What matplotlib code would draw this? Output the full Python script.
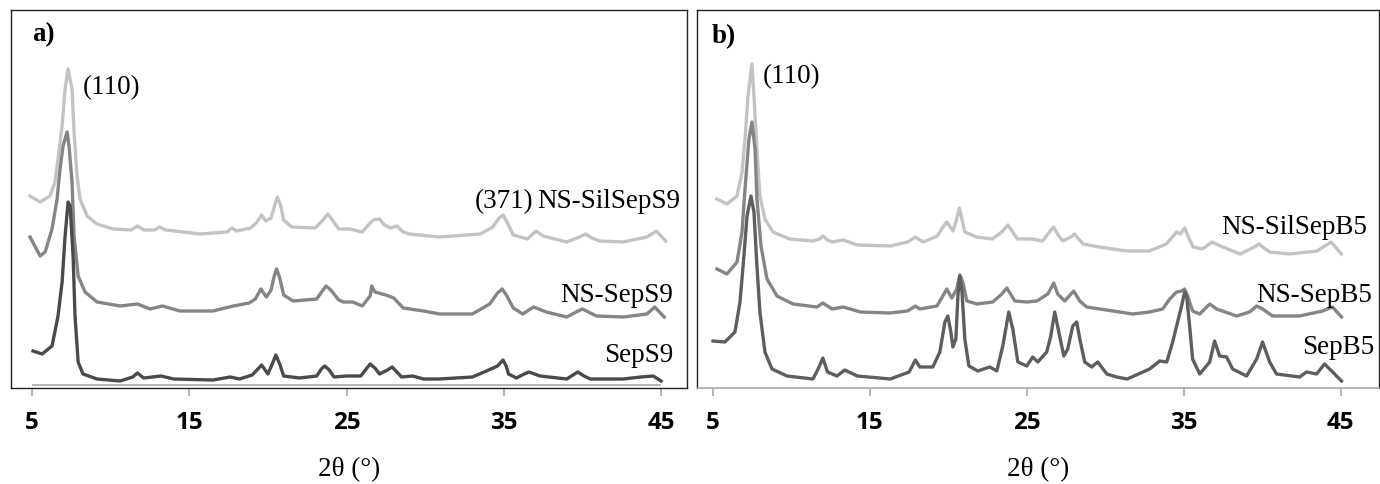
import matplotlib
matplotlib.use("Agg")
import matplotlib.pyplot as plt

# ---------------- data (2theta in degrees, intensity in arbitrary units, offset stacked) ----------
ticks = [5, 15, 25, 35, 45]
tick_labels = ["5", "15", "25", "35", "45"]

# Panel a : NS-SilSepS9
a_sil_x = [4.87, 5.51, 6.14, 6.46, 6.65, 6.91, 7.10, 7.29, 7.54, 7.67, 7.86, 8.05, 8.5, 9.13, 10.15, 11.3, 11.7,
           12.1, 12.8, 13.1, 13.5, 15.7, 17.4, 17.7, 18.0, 18.9, 19.3, 19.6, 19.85, 20.2, 20.45, 20.6, 20.8,
           21.0, 21.5, 23.0, 23.5, 23.8, 24.1, 24.5, 25.2, 26.0, 26.5, 26.7, 27.1, 27.4, 27.8, 28.2, 28.6,
           29.0, 30.9, 33.5, 34.3, 34.7, 34.95, 35.2, 35.6, 36.5, 37.05, 37.5, 39.0, 39.8, 40.2, 40.6, 41.1,
           42.6, 44.1, 44.7, 45.3]
a_sil_y = [192, 186, 192, 206, 229, 262, 299, 319, 299, 256, 212, 189, 172, 164, 159, 158, 162,
           158, 158, 161, 158, 154, 156, 160, 157, 160, 166, 173, 167, 170, 184, 191, 183,
           168, 161, 160, 168, 174, 168, 159, 159, 156, 165, 168, 169, 163, 160, 162, 156,
           154, 151, 154, 161, 170, 173, 166, 153, 149, 157, 152, 146, 151, 154, 150, 147,
           146, 151, 157, 147]

# Panel a : NS-SepS9
a_sep_x = [4.87, 5.51, 5.83, 6.27, 6.59, 6.78, 6.97, 7.23, 7.35, 7.54, 7.67, 7.93, 8.37, 9.13, 10.6, 11.7, 12.5,
           13.3, 14.4, 16.5, 17.8, 18.8, 19.2, 19.55, 19.9, 20.2, 20.4, 20.55, 20.75, 21.0, 21.6, 23.1, 23.5,
           23.7, 24.0, 24.5, 24.8, 25.4, 26.0, 26.5, 26.6, 26.8, 27.5, 28.0, 28.6, 29.9, 30.9, 33.0, 34.1,
           34.6, 34.9, 35.2, 35.6, 36.2, 36.9, 37.7, 39.0, 39.6, 40.0, 40.5, 40.9, 42.6, 44.1, 44.6, 45.2]
a_sep_y = [151, 132, 136, 159, 189, 219, 242, 256, 242, 206, 152, 112, 96, 86, 82, 84, 79,
           82, 77, 77, 82, 85, 89, 99, 91, 98, 112, 119, 110, 93, 87, 89, 98,
           102, 98, 88, 86, 86, 82, 92, 102, 96, 93, 90, 80, 77, 74, 74, 84,
           95, 99, 92, 80, 74, 81, 76, 71, 76, 79, 75, 72, 71, 74, 81, 71]

# Panel a : SepS9
a_s9_x = [5.06, 5.64, 6.27, 6.65, 6.91, 7.10, 7.29, 7.42, 7.61, 7.73, 7.93, 8.24, 9.13, 10.6, 11.4, 11.7, 12.1,
          13.2, 14.0, 16.5, 17.6, 18.2, 19.0, 19.3, 19.6, 20.0, 20.3, 20.5, 20.75, 21.0, 22.0, 23.1, 23.4,
          23.6, 23.9, 24.2, 25.0, 25.9, 26.3, 26.5, 26.8, 27.1, 27.6, 27.9, 28.2, 28.5, 29.2, 29.9, 30.9,
          33.0, 33.9, 34.6, 34.95, 35.15, 35.3, 35.8, 36.3, 36.6, 37.3, 39.0, 39.4, 39.7, 40.1, 40.5, 42.6,
          43.7, 44.5, 45.0]
a_s9_y = [37, 34, 42, 72, 106, 152, 186, 182, 132, 72, 26, 14, 9, 7, 11, 15, 10,
          12, 9, 8, 11, 9, 13, 18, 23, 14, 25, 33, 24, 12, 10, 12, 19,
          22, 18, 11, 12, 12, 20, 24, 20, 14, 18, 21, 16, 11, 12, 9, 9,
          11, 17, 22, 28, 22, 14, 10, 14, 16, 12, 9, 13, 16, 12, 9, 9,
          11, 12, 7]

# Panel b : NS-SilSepB5
b_sil_x = [5.25, 5.89, 6.53, 6.85, 7.04, 7.23, 7.48, 7.61, 7.80, 7.99, 8.31, 8.82, 9.90, 11.37, 11.8, 12.0, 12.3,
           12.6, 13.3, 14.2, 16.3, 17.4, 17.9, 18.4, 19.3, 19.65, 19.9, 20.3, 20.55, 20.7, 20.85, 21.05, 21.8,
           22.8, 23.4, 23.8, 24.1, 24.4, 25.3, 26.0, 26.4, 26.7, 27.0, 27.3, 27.8, 28.05, 28.3, 28.6, 29.6,
           31.4, 32.8, 33.9, 34.55, 34.8, 35.06, 35.3, 35.6, 36.2, 36.8, 37.5, 38.6, 39.5, 39.8, 40.2, 40.5,
           41.75, 43.5, 44.4, 45.05]
b_sil_y = [189, 184, 192, 216, 249, 292, 324, 292, 239, 192, 169, 156, 149, 147, 149, 152, 148,
           146, 148, 143, 142, 146, 151, 146, 152, 161, 166, 157, 170, 180, 170, 156, 151,
           149, 156, 163, 156, 149, 149, 147, 155, 161, 153, 147, 151, 154, 149, 144, 141,
           137, 137, 144, 156, 154, 160, 151, 141, 139, 146, 141, 134, 141, 144, 139, 136,
           134, 137, 146, 134]

# Panel b : NS-SepB5
b_sep_x = [5.25, 5.89, 6.53, 6.85, 7.04, 7.29, 7.48, 7.68, 7.80, 8.06, 8.44, 9.08, 10.10, 11.62, 12.0, 12.6,
           13.3, 14.4, 16.3, 17.4, 17.9, 18.18, 19.27, 19.65, 19.90, 20.22, 20.54, 20.73, 20.92, 21.18, 21.82,
           22.83, 23.41, 23.73, 24.24, 25.0, 25.64, 26.34, 26.72, 26.97, 27.42, 27.99, 28.38, 28.82, 29.65,
           30.92, 31.75, 32.83, 33.66, 34.11, 34.55, 34.87, 35.06, 35.25, 35.57, 36.02, 36.66, 37.10, 38.38,
           39.2, 39.65, 40.03, 40.67, 42.39, 43.85, 44.49, 45.06]
b_sep_y = [119, 114, 126, 156, 199, 249, 266, 239, 189, 142, 109, 92, 84, 81, 85, 79,
           81, 76, 75, 77, 82, 79, 82, 92, 99, 90, 99, 113, 106, 87, 84,
           86, 94, 100, 87, 86, 87, 94, 105, 94, 87, 97, 87, 81, 79,
           76, 74, 76, 79, 89, 96, 97, 99, 92, 77, 74, 84, 79, 72,
           76, 82, 79, 72, 72, 77, 81, 71]

# Panel b : SepB5
b_s5_x = [5.0, 5.76, 6.40, 6.72, 6.97, 7.17, 7.42, 7.61, 7.80, 7.99, 8.31, 8.76, 9.71, 11.37, 11.7, 12.0, 12.3,
          12.9, 13.4, 14.2, 16.3, 17.5, 17.9, 18.18, 19.01, 19.46, 19.78, 19.97, 20.16, 20.29, 20.48, 20.61,
          20.73, 20.86, 21.05, 21.31, 21.88, 22.64, 23.09, 23.47, 23.85, 24.11, 24.43, 25.0, 25.38, 25.70,
          26.27, 26.53, 26.78, 27.04, 27.36, 27.61, 27.93, 28.18, 28.38, 28.69, 29.14, 29.52, 30.1, 30.73,
          31.4, 32.83, 33.47, 33.92, 34.30, 34.55, 34.87, 35.06, 35.19, 35.38, 35.57, 36.02, 36.66, 36.97,
          37.29, 37.74, 38.12, 39.01, 39.65, 40.03, 40.48, 40.92, 42.39, 42.83, 43.47, 43.98, 44.43, 45.06]
b_s5_y = [47, 46, 56, 86, 132, 172, 192, 176, 122, 76, 36, 19, 12, 9, 19, 30, 16,
          12, 18, 12, 9, 16, 28, 21, 21, 36, 66, 72, 56, 41, 49, 92,
          112, 99, 49, 22, 17, 21, 17, 42, 76, 59, 26, 22, 31, 26,
          36, 52, 76, 56, 32, 39, 62, 66, 49, 26, 21, 26, 14, 11,
          9, 19, 27, 26, 46, 62, 82, 96, 92, 62, 29, 14, 26, 47,
          32, 31, 19, 12, 29, 46, 26, 14, 11, 16, 14, 24, 17, 7]

# ---------------- figure ----------------
W, H = 1380, 485
fig = plt.figure(figsize=(W / 100, H / 100), dpi=100)

c_light, c_mid, c_dark = "#c3c3c3", "#858585", "#4a4a4a"
c_dark_b = "#5e5e5e"
axis_gray = "#a8a8a8"
serif = ["Liberation Serif", "DejaVu Serif"]
tickfont = {"family": "Open Sans", "weight": "bold", "size": 17.5}
fs = 19.5


def make_axes(left_px, right_px, xmin, xmax, gray_bottom):
    ax = fig.add_axes([left_px / W, (H - 389) / H, (right_px - left_px) / W, 378 / H])
    ax.set_xlim(xmin, xmax)
    ax.set_ylim(0, 378)
    ax.set_yticks([])
    ax.set_xticks(ticks)
    ax.set_xticklabels(tick_labels, fontdict=tickfont)
    ax.tick_params(axis="x", direction="out", length=6, width=1.2, color=axis_gray, pad=10)
    for s in ax.spines.values():
        s.set_color("#222222")
        s.set_linewidth(1.0)
    if gray_bottom:
        ax.spines["bottom"].set_color(axis_gray)
        ax.spines["bottom"].set_linewidth(1.2)
    else:
        ax.hlines(3, ticks[0], ticks[-1], color=axis_gray, lw=1.2, zorder=1)
    ax.set_xlabel("2θ (°)", family=serif, fontsize=fs, labelpad=16)
    return ax


lw = 2.4
ax1 = make_axes(11, 687, 3.66, 46.65, False)
ax1.plot(a_sil_x, a_sil_y, color=c_light, lw=lw)
ax1.plot(a_sep_x, a_sep_y, color=c_mid, lw=lw)
ax1.plot(a_s9_x, a_s9_y, color=c_dark, lw=lw)
ax1.text(5.0, 354, "a)", family=serif, weight="bold", fontsize=fs, va="center", ha="left")
ax1.text(8.24, 301, "(110)", family=serif, fontsize=fs, va="center", ha="left")
ax1.text(33.17, 187, "(371)", family=serif, fontsize=fs, va="center", ha="left")
ax1.text(46.2, 187, "NS-SilSepS9", family=serif, fontsize=fs, va="center", ha="right")
ax1.text(45.76, 94, "NS-SepS9", family=serif, fontsize=fs, va="center", ha="right")
ax1.text(45.76, 34, "SepS9", family=serif, fontsize=fs, va="center", ha="right")

ax2 = make_axes(697, 1379, 3.98, 47.45, True)
ax2.plot(b_sil_x, b_sil_y, color=c_light, lw=lw)
ax2.plot(b_sep_x, b_sep_y, color=c_mid, lw=lw)
ax2.plot(b_s5_x, b_s5_y, color=c_dark_b, lw=lw)
ax2.text(4.94, 352, "b)", family=serif, weight="bold", fontsize=fs, va="center", ha="left")
ax2.text(8.18, 312, "(110)", family=serif, fontsize=fs, va="center", ha="left")
ax2.text(46.7, 162, "NS-SilSepB5", family=serif, fontsize=fs, va="center", ha="right")
ax2.text(47.04, 94, "NS-SepB5", family=serif, fontsize=fs, va="center", ha="right")
ax2.text(47.17, 42, "SepB5", family=serif, fontsize=fs, va="center", ha="right")

fig.savefig("out.png", dpi=100)
